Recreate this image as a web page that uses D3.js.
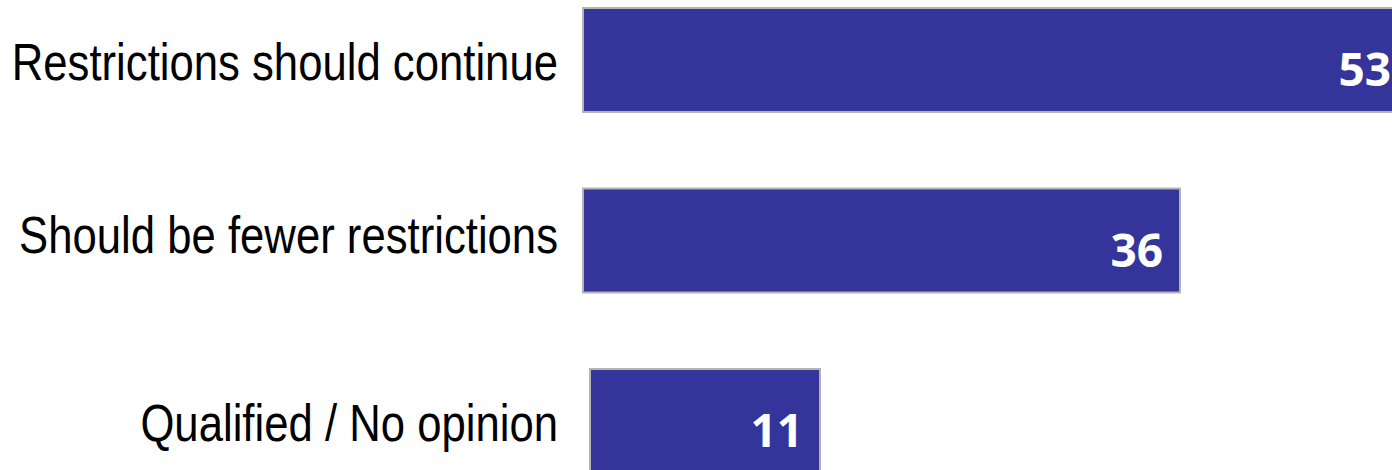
<!DOCTYPE html>
<html>
<head>
<meta charset="utf-8">
<script src="https://cdn.jsdelivr.net/npm/d3@7/dist/d3.min.js"></script>
<style>
  html, body { margin: 0; padding: 0; background: #fff; overflow: hidden; }
  svg { display: block; }
</style>
</head>
<body>
<script>
// ---- data ----
const categories = ["Restrictions should continue", "Should be fewer restrictions", "Qualified / No opinion"];
const values = [53, 36, 11];

// ---- layout / style ----
const W = 1392, H = 470;
const barFill = "#34349a";
const barStroke = "#b3b3b3";
const labelRight = 558;
const labelCondense = 0.84;
const labelShiftY = [0, -8, 0];
const barStartShift = [0, 0, 7];

const svg = d3.select("body").append("svg").attr("width", W).attr("height", H);

const x = d3.scaleLinear().domain([-5.6, 60]).range([582, 1526.6]);
const y = d3.scaleBand().domain(categories).range([7, 474]).paddingInner(0.413).paddingOuter(0);

const rows = categories.map((c, i) => ({ cat: c, val: values[i], i }));

// bars
svg.selectAll("rect.bar").data(rows).join("rect")
  .attr("class", "bar")
  .attr("x", d => x(-5.6) + barStartShift[d.i] + 1)
  .attr("y", d => y(d.cat) + 1)
  .attr("width", d => x(d.val) - x(-5.6) - barStartShift[d.i] - 2)
  .attr("height", y.bandwidth() - 2)
  .attr("fill", barFill)
  .attr("stroke", barStroke)
  .attr("stroke-width", 2);

// category labels
svg.selectAll("text.cat").data(rows).join("text")
  .attr("class", "cat")
  .attr("transform", d => `translate(${labelRight},${y(d.cat) + y.bandwidth() / 2 + 20 + labelShiftY[d.i]}) scale(${labelCondense},1)`)
  .attr("text-anchor", "end")
  .attr("font-family", "'Liberation Sans', Arial, sans-serif")
  .attr("font-size", 52)
  .attr("fill", "#000")
  .text(d => d.cat);

// value labels
svg.selectAll("text.val").data(rows).join("text")
  .attr("class", "val")
  .attr("x", d => Math.min(x(d.val) - 18, W - 1))
  .attr("y", d => y(d.cat) + y.bandwidth() / 2 + 26)
  .attr("text-anchor", "end")
  .attr("font-family", "'Open Sans', sans-serif")
  .attr("font-weight", "bold")
  .attr("font-size", 46)
  .attr("fill", "#fff")
  .text(d => d.val);
</script>
</body>
</html>
